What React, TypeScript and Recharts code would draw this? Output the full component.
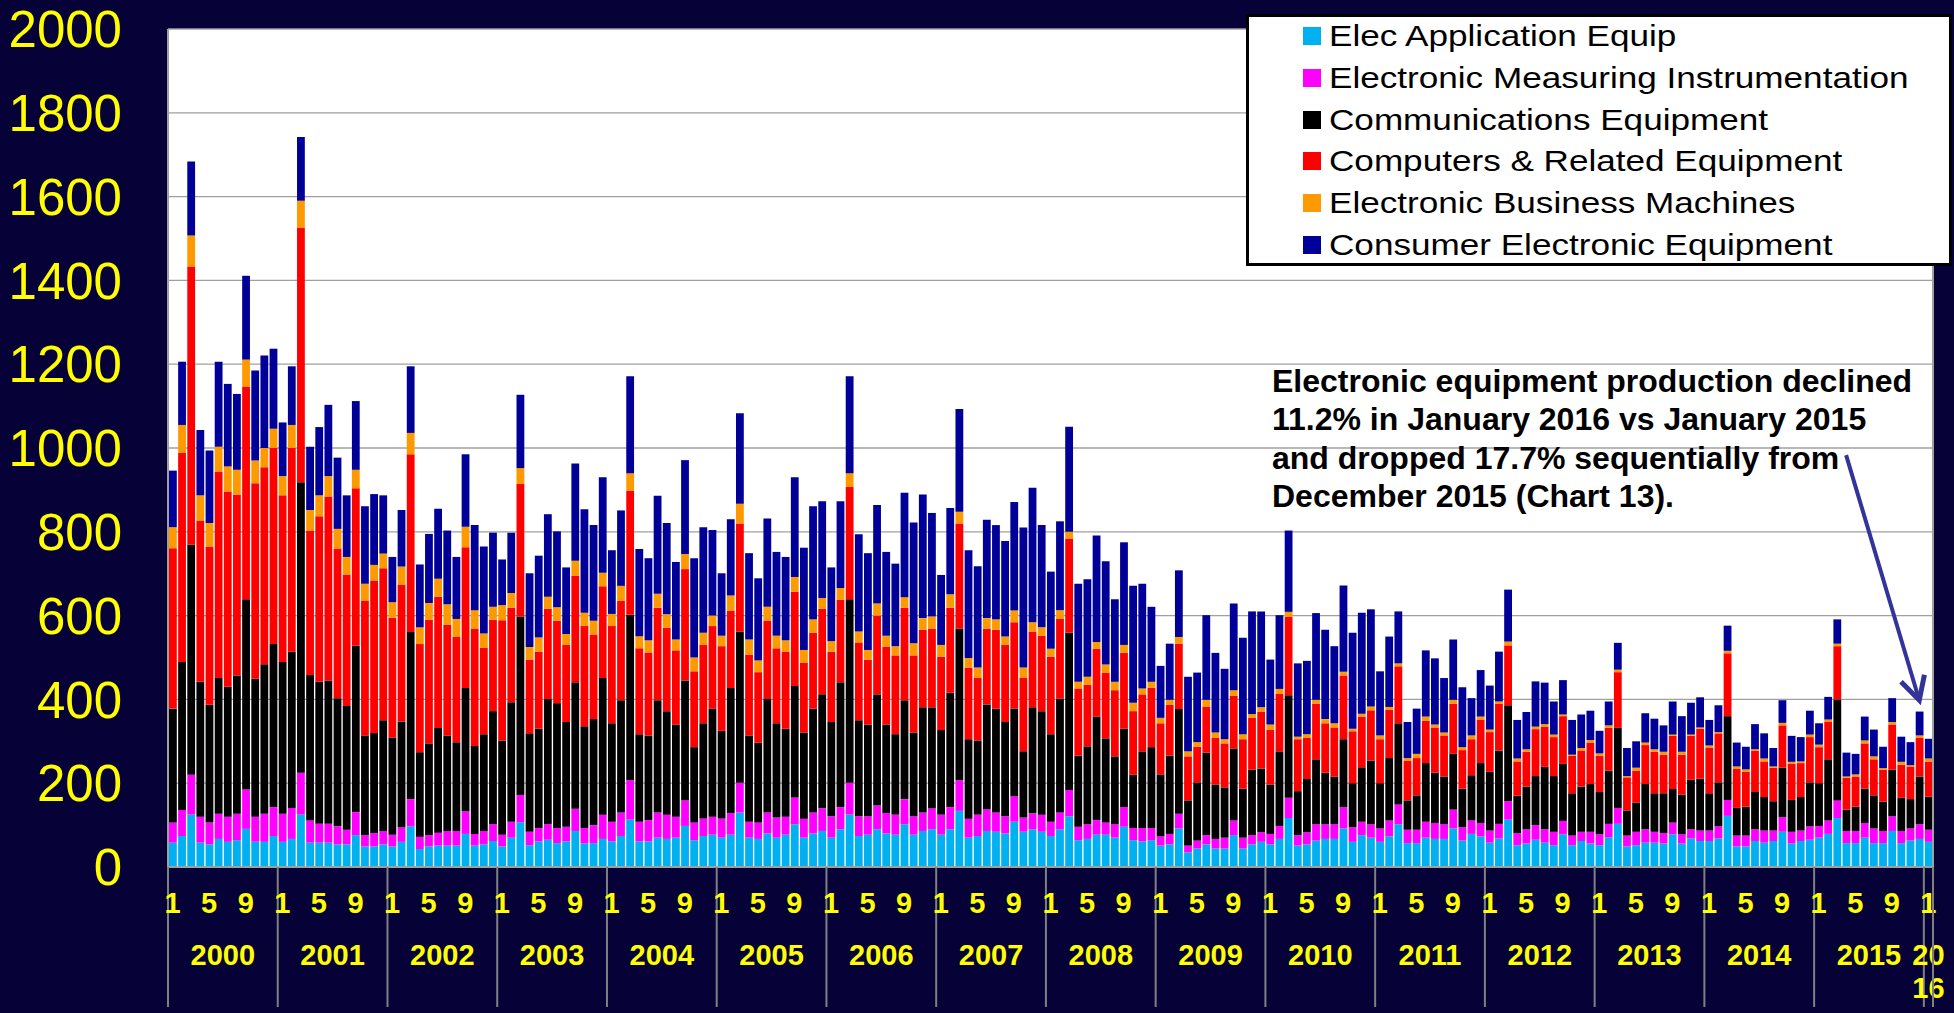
import React from 'react';
import { BarChart, Bar, XAxis, YAxis, CartesianGrid, ReferenceLine, Legend } from 'recharts';

const years = [2000, 2001, 2002, 2003, 2004, 2005, 2006, 2007, 2008, 2009, 2010, 2011, 2012, 2013, 2014, 2015];
const lastYear = 2016;
const monthTickLabels = [1, 5, 9];
const yTicks = [0, 200, 400, 600, 800, 1000, 1200, 1400, 1600, 1800, 2000];

const seriesNames = [
  'Elec Application Equip',
  'Electronic Measuring Instrumentation',
  'Communications Equipment',
  'Computers & Related Equipment',
  'Electronic Business Machines',
  'Consumer Electronic Equipment',
];
const seriesKeys = ['elecApp', 'measuring', 'comms', 'computers', 'business', 'consumer'];
const seriesColors = ['#00b0f0', '#ff00ff', '#000000', '#ff0000', '#ff9900', '#000099'];

const annotationLines = [
  'Electronic equipment production declined',
  '11.2% in January 2016 vs January 2015',
  'and dropped 17.7% sequentially from',
  'December 2015 (Chart 13).',
];

// monthly values, Jan 2000 .. Jan 2016
const elecApp = [
  58, 74, 125, 58, 54, 67, 60, 64, 91, 60, 60, 74,
  60, 67, 125, 58, 58, 58, 54, 54, 76, 49, 49, 54,
  49, 60, 97, 43, 49, 51, 51, 51, 79, 51, 54, 62,
  49, 70, 107, 52, 61, 65, 57, 61, 86, 56, 57, 67,
  61, 74, 113, 61, 61, 70, 67, 70, 98, 64, 74, 77,
  70, 77, 130, 70, 67, 80, 70, 77, 102, 70, 80, 86,
  70, 90, 125, 74, 77, 90, 80, 77, 102, 77, 86, 90,
  77, 90, 134, 70, 74, 86, 84, 80, 108, 84, 90, 84,
  74, 90, 121, 64, 67, 77, 77, 70, 96, 64, 61, 64,
  51, 54, 92, 35, 44, 54, 44, 44, 76, 44, 54, 60,
  54, 67, 117, 51, 54, 63, 67, 67, 92, 60, 76, 70,
  60, 73, 102, 57, 57, 70, 67, 67, 92, 63, 79, 73,
  58, 68, 113, 52, 56, 65, 58, 52, 78, 52, 62, 56,
  52, 71, 103, 49, 52, 58, 58, 56, 78, 56, 68, 62,
  62, 68, 122, 49, 49, 62, 58, 62, 84, 56, 62, 65,
  70, 79, 117, 57, 57, 70, 57, 57, 86, 57, 63, 67,
  60,
];
const measuring = [
  48, 62, 95, 62, 52, 60, 60, 63, 94, 60, 67, 69,
  67, 74, 100, 53, 45, 45, 43, 35, 55, 27, 32, 32,
  28, 35, 65, 29, 27, 31, 35, 35, 54, 28, 32, 40,
  28, 38, 65, 32, 32, 37, 36, 35, 53, 37, 43, 58,
  47, 56, 94, 47, 51, 60, 58, 50, 61, 42, 42, 43,
  46, 52, 71, 38, 39, 50, 48, 43, 64, 45, 50, 54,
  51, 53, 76, 47, 44, 57, 49, 48, 60, 44, 44, 50,
  48, 53, 73, 45, 51, 52, 46, 41, 61, 34, 38, 41,
  34, 40, 63, 32, 35, 35, 29, 32, 47, 29, 32, 29,
  22, 25, 35, 16, 19, 22, 23, 26, 35, 26, 22, 23,
  25, 31, 48, 25, 29, 39, 35, 35, 51, 35, 32, 32,
  32, 38, 47, 32, 32, 38, 38, 35, 45, 32, 32, 32,
  29, 35, 44, 29, 34, 35, 32, 32, 32, 23, 22, 28,
  26, 32, 38, 26, 32, 32, 26, 25, 28, 22, 22, 25,
  25, 29, 38, 26, 26, 28, 29, 25, 35, 28, 25, 32,
  28, 32, 42, 29, 29, 35, 35, 29, 35, 29, 29, 35,
  29,
];
const comms = [
  272, 353, 549, 322, 281, 324, 310, 330, 454, 329, 357, 389,
  362, 373, 693, 347, 339, 342, 306, 295, 397, 238, 239, 264,
  232, 252, 399, 202, 219, 250, 228, 212, 294, 210, 231, 270,
  225, 285, 426, 235, 237, 299, 298, 250, 302, 243, 253, 326,
  235, 268, 395, 209, 202, 268, 247, 220, 286, 180, 227, 258,
  209, 298, 361, 206, 191, 271, 225, 210, 266, 206, 248, 272,
  225, 298, 438, 229, 219, 265, 211, 192, 236, 200, 251, 241,
  202, 273, 362, 190, 177, 250, 248, 225, 209, 158, 253, 247,
  209, 272, 375, 170, 186, 247, 201, 162, 187, 127, 183, 193,
  148, 187, 250, 108, 139, 197, 130, 120, 172, 117, 156, 152,
  118, 178, 245, 105, 127, 155, 123, 114, 162, 105, 130, 152,
  108, 149, 194, 70, 82, 140, 120, 114, 133, 92, 108, 143,
  140, 175, 229, 89, 102, 117, 149, 133, 136, 101, 108, 114,
  101, 127, 191, 60, 70, 108, 92, 95, 80, 95, 118, 124,
  89, 105, 200, 66, 69, 89, 80, 70, 118, 76, 80, 105,
  102, 146, 241, 51, 58, 82, 79, 70, 111, 79, 70, 114,
  79,
];
const computers = [
  383, 499, 664, 385, 378, 493, 466, 432, 508, 467, 470, 468,
  398, 486, 608, 345, 395, 439, 357, 314, 376, 322, 364, 363,
  286, 327, 424, 258, 295, 313, 264, 251, 336, 280, 206, 218,
  287, 226, 316, 176, 184, 215, 197, 184, 254, 239, 202, 219,
  232, 237, 296, 205, 198, 221, 199, 177, 266, 181, 187, 197,
  202, 185, 258, 193, 168, 187, 179, 184, 225, 167, 181, 204,
  168, 197, 268, 186, 155, 188, 186, 188, 221, 184, 185, 188,
  175, 203, 251, 171, 149, 181, 188, 184, 206, 175, 181, 180,
  185, 191, 225, 160, 147, 162, 157, 158, 181, 152, 136, 142,
  122, 121, 156, 105, 85, 110, 111, 105, 126, 118, 124, 136,
  130, 137, 187, 124, 98, 133, 118, 117, 152, 124, 121, 120,
  105, 115, 136, 95, 89, 101, 108, 98, 120, 92, 86, 104,
  95, 111, 143, 82, 83, 112, 96, 93, 114, 89, 86, 99,
  86, 102, 133, 79, 76, 93, 99, 92, 127, 95, 105, 119,
  108, 117, 150, 93, 83, 98, 85, 80, 101, 86, 81, 108,
  86, 89, 127, 76, 72, 108, 86, 76, 108, 79, 78, 92,
  83,
];
const business = [
  50, 67, 74, 60, 56, 59, 60, 59, 64, 54, 46, 46,
  46, 55, 64, 49, 50, 49, 47, 42, 44, 40, 37, 35,
  37, 43, 51, 40, 40, 43, 49, 43, 49, 44, 34, 31,
  36, 35, 38, 30, 34, 29, 32, 26, 36, 32, 33, 32,
  29, 36, 42, 29, 29, 33, 32, 26, 36, 33, 29, 25,
  25, 36, 47, 36, 28, 33, 30, 27, 35, 30, 32, 26,
  25, 28, 33, 26, 23, 29, 26, 22, 25, 29, 28, 29,
  28, 32, 28, 23, 25, 25, 25, 20, 28, 25, 22, 20,
  19, 20, 16, 16, 19, 16, 19, 20, 19, 20, 14, 14,
  13, 12, 16, 12, 11, 16, 13, 10, 13, 12, 9, 10,
  13, 12, 12, 6, 9, 9, 10, 10, 9, 6, 7, 9,
  9, 7, 7, 6, 10, 10, 7, 7, 9, 7, 9, 7,
  6, 6, 9, 7, 6, 6, 6, 6, 4, 3, 6, 6,
  6, 6, 6, 3, 7, 6, 6, 7, 3, 7, 3, 3,
  6, 3, 6, 6, 6, 4, 7, 3, 6, 5, 4, 6,
  6, 6, 6, 3, 5, 7, 7, 4, 6, 7, 3, 6,
  8,
];
const consumer = [
  135, 151, 177, 156, 173, 203, 197, 181, 200, 215, 221, 191,
  128, 140, 152, 151, 163, 170, 170, 147, 164, 185, 169, 139,
  108, 135, 159, 150, 165, 167, 176, 148, 173, 203, 208, 177,
  109, 144, 175, 176, 195, 197, 181, 159, 232, 247, 228, 228,
  152, 180, 231, 208, 196, 234, 218, 185, 224, 237, 252, 204,
  149, 182, 216, 206, 196, 211, 200, 199, 238, 244, 270, 231,
  176, 207, 231, 232, 231, 235, 200, 197, 249, 288, 295, 247,
  167, 206, 245, 257, 242, 235, 225, 228, 259, 334, 321, 244,
  184, 212, 251, 234, 233, 254, 247, 197, 245, 279, 250, 179,
  124, 134, 159, 178, 166, 202, 190, 168, 207, 230, 245, 229,
  155, 176, 194, 175, 175, 207, 213, 184, 206, 229, 241, 232,
  153, 168, 124, 86, 108, 158, 158, 130, 144, 143, 89, 111,
  105, 119, 124, 92, 89, 108, 99, 79, 82, 83, 80, 70,
  54, 57, 64, 67, 63, 70, 73, 63, 79, 85, 76, 72,
  61, 64, 60, 57, 54, 60, 60, 44, 54, 62, 58, 57,
  51, 54, 58, 57, 49, 57, 64, 51, 57, 60, 55, 57,
  47,
];

const monthKeys: string[] = [];
years.forEach((y) => {
  for (let m = 1; m <= 12; m++) monthKeys.push(`${y}-${m}`);
});
monthKeys.push(`${lastYear}-1`);

const seriesValues = [elecApp, measuring, comms, computers, business, consumer];
const data = monthKeys.map((key, i) => {
  const row: Record<string, any> = { key };
  seriesKeys.forEach((k, s) => {
    row[k] = seriesValues[s][i];
  });
  return row;
});

const W = 1954;
const H = 1013;
const PLOT_LEFT = 168;
const PLOT_RIGHT = 1933;
const STEP = (PLOT_RIGHT - PLOT_LEFT) / monthKeys.length;
const BG = '#060238';
const YELLOW = '#ffff00';
const SANS = "'Liberation Sans', Arial, sans-serif";

const YTick = (props: any) => {
  const { x, y, payload } = props;
  return (
    <text x={x} y={y} dy="0.355em" textAnchor="end" fill={YELLOW} fontSize={51} fontFamily={SANS}>
      {payload.value}
    </text>
  );
};

const XTick = (props: any) => {
  const { x, y, payload, index } = props;
  const [yr, mo] = String(payload.value).split('-').map(Number);
  const half = STEP / 2;
  const els: any[] = [];
  const textProps = { fill: YELLOW, fontSize: 29, fontWeight: 700, fontFamily: SANS, textAnchor: 'middle' as const };
  if (mo === 1) {
    els.push(<line key="sep" x1={x - half} x2={x - half} y1={y} y2={y + 140} stroke="#808080" strokeWidth={2} />);
    if (yr === lastYear) {
      els.push(<text key="y1" x={x} y={y + 88} dy="0.355em" {...textProps}>{String(yr).slice(0, 2)}</text>);
      els.push(<text key="y2" x={x} y={y + 121} dy="0.355em" {...textProps}>{String(yr).slice(2)}</text>);
    } else {
      els.push(<text key="yr" x={x + 5.5 * STEP} y={y + 88} dy="0.355em" {...textProps}>{yr}</text>);
    }
  }
  if (monthTickLabels.includes(mo)) {
    els.push(<text key="mo" x={x} y={y + 36} dy="0.355em" {...textProps}>{mo}</text>);
  }
  if (index === monthKeys.length - 1) {
    els.push(<line key="end" x1={x + half} x2={x + half} y1={y} y2={y + 140} stroke="#808080" strokeWidth={2} />);
  }
  return <g>{els}</g>;
};

const ArrowShape = (props: any) => {
  const { x1, y1, x2, y2 } = props;
  const ang = Math.atan2(y2 - y1, x2 - x1);
  const len = 26;
  const spread = (28 * Math.PI) / 180;
  const a1 = ang + Math.PI - spread;
  const a2 = ang + Math.PI + spread;
  const p1 = `${x2 + len * Math.cos(a1)},${y2 + len * Math.sin(a1)}`;
  const p2 = `${x2 + len * Math.cos(a2)},${y2 + len * Math.sin(a2)}`;
  return (
    <g>
      <line x1={x1} y1={y1} x2={x2} y2={y2} stroke="#333399" strokeWidth={4} />
      <polyline points={`${p1} ${x2},${y2} ${p2}`} fill="none" stroke="#333399" strokeWidth={5} strokeLinejoin="miter" />
    </g>
  );
};

const LegendBox = () => (
  <div
    style={{
      position: 'relative',
      width: 706,
      height: 252,
      boxSizing: 'border-box',
      border: '3px solid #000',
      background: '#fff',
      fontFamily: SANS,
      fontSize: 29.5,
      color: '#000',
    }}
  >
    {seriesNames.map((name, i) => (
      <div
        key={name}
        style={{
          position: 'absolute',
          left: 54,
          top: 19 + i * 41.8 - 20,
          height: 40,
          display: 'flex',
          alignItems: 'center',
          whiteSpace: 'nowrap',
        }}
      >
        <span style={{ display: 'inline-block', width: 18, height: 18, background: seriesColors[i], marginRight: 8 }} />
        <span
          style={{
            lineHeight: '40px',
            display: 'inline-block',
            transform: 'scaleX(1.19)',
            transformOrigin: 'left center',
          }}
        >
          {name}
        </span>
      </div>
    ))}
  </div>
);

export default function App() {
  return (
    <div style={{ position: 'absolute', left: 0, top: 0, width: W, height: H, background: BG, overflow: 'hidden' }}>
      <style>{`body{margin:0;background:${BG};}`}</style>
      <BarChart
        width={W}
        height={H}
        data={data}
        margin={{ top: 29, right: 20, bottom: 0, left: 0 }}
        barSize={7.8}
      >
        <CartesianGrid vertical={false} stroke="#a0a0a0" strokeWidth={1.3} fill="#ffffff" />
        <XAxis
          dataKey="key"
          interval={0}
          height={H - 867}
          tickLine={false}
          tickSize={0}
          tickMargin={0}
          axisLine={{ stroke: '#a0a0a0', strokeWidth: 2 }}
          tick={<XTick />}
        />
        <YAxis
          domain={[0, 2000]}
          ticks={yTicks}
          width={PLOT_LEFT}
          tickLine={false}
          tickSize={0}
          tickMargin={46}
          axisLine={{ stroke: '#a0a0a0', strokeWidth: 2 }}
          tick={<YTick />}
          allowDataOverflow
        />
        <YAxis
          yAxisId="right"
          orientation="right"
          domain={[0, 2000]}
          width={1}
          tick={false}
          tickLine={false}
          axisLine={{ stroke: '#a0a0a0', strokeWidth: 2 }}
        />
        {seriesKeys.map((k, i) => (
          <Bar key={k} dataKey={k} name={seriesNames[i]} stackId="a" fill={seriesColors[i]} isAnimationActive={false} />
        ))}
        <ReferenceLine
          segment={[
            { x: '2015-4', y: 983 },
            { x: '2015-12', y: 398 },
          ]}
          ifOverflow="visible"
          shape={<ArrowShape />}
        />
        <Legend
          layout="horizontal"
          verticalAlign="middle"
          align="center"
          wrapperStyle={{ position: 'absolute', left: 1246, top: 14, width: 706, height: 252, margin: 0 }}
          content={() => <LegendBox />}
        />
      </BarChart>
      <div
        style={{
          position: 'absolute',
          left: 1272,
          top: 362,
          fontFamily: SANS,
          fontWeight: 700,
          fontSize: 32,
          lineHeight: '38.3px',
          color: '#000',
          whiteSpace: 'nowrap',
        }}
      >
        {annotationLines.map((l) => (
          <div key={l}>{l}</div>
        ))}
      </div>
    </div>
  );
}
